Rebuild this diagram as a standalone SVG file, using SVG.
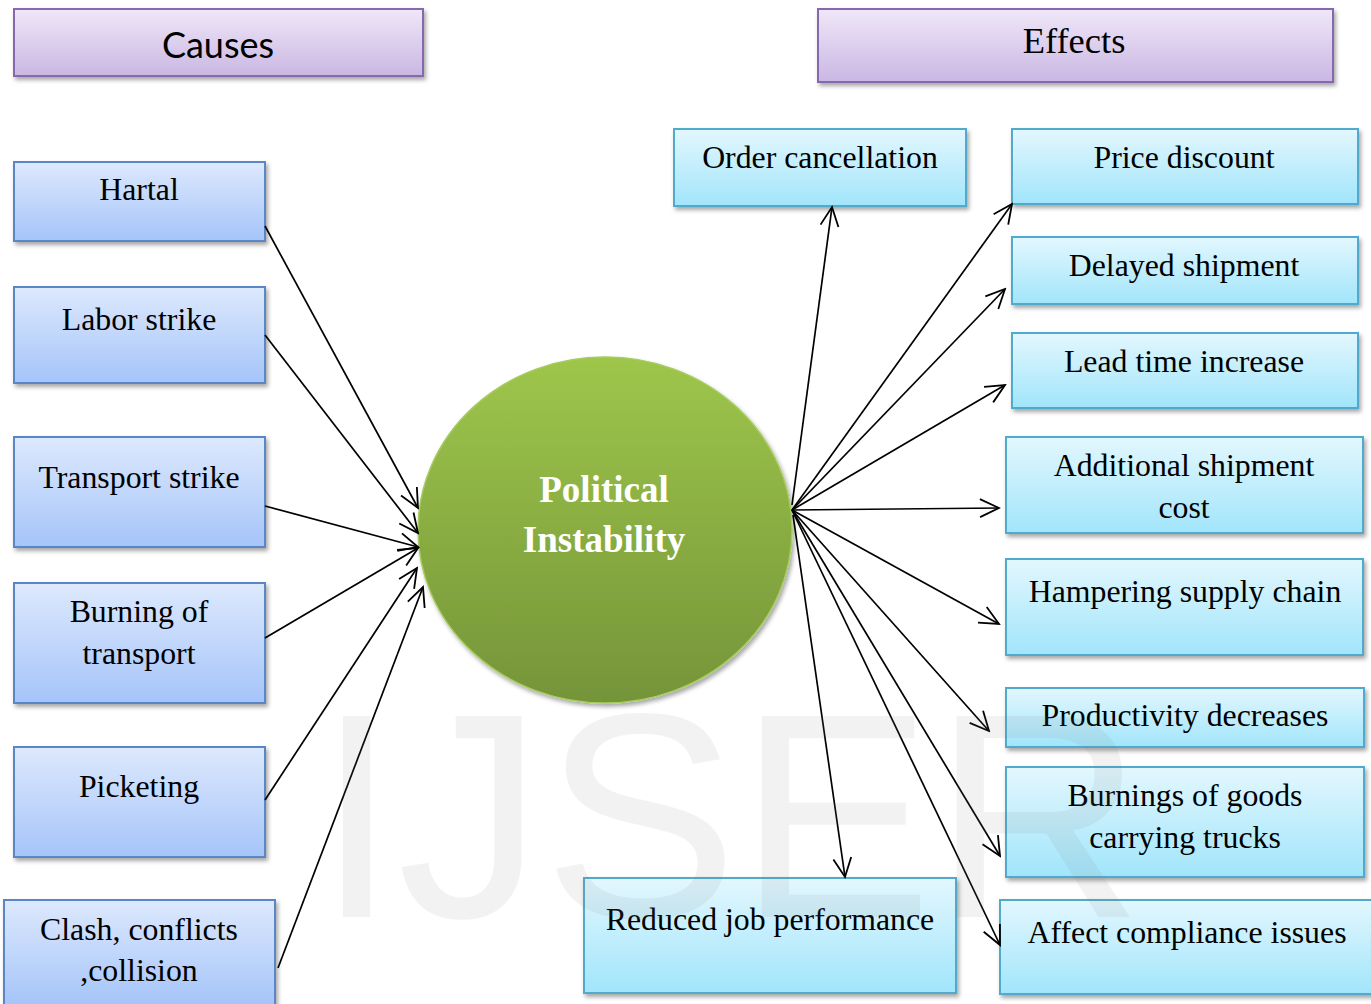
<svg xmlns="http://www.w3.org/2000/svg" width="1371" height="1004" viewBox="0 0 1371 1004">
  <defs>
    <linearGradient id="gHead" x1="0" y1="0" x2="0" y2="1">
      <stop offset="0" stop-color="#efe7f8"/>
      <stop offset="1" stop-color="#cab7e3"/>
    </linearGradient>
    <linearGradient id="gCause" x1="0" y1="0" x2="0" y2="1">
      <stop offset="0" stop-color="#dde9fd"/>
      <stop offset="1" stop-color="#a5c4f9"/>
    </linearGradient>
    <linearGradient id="gEffect" x1="0" y1="0" x2="0" y2="1">
      <stop offset="0" stop-color="#e3f7fe"/>
      <stop offset="1" stop-color="#a1e5fb"/>
    </linearGradient>
    <linearGradient id="gCore" x1="0" y1="0" x2="0" y2="1">
      <stop offset="0" stop-color="#9ec64b"/>
      <stop offset="1" stop-color="#759439"/>
    </linearGradient>
    <filter id="shadow" x="-10%" y="-10%" width="125%" height="140%">
      <feDropShadow dx="2" dy="3" stdDeviation="2" flood-color="#000" flood-opacity="0.35"/>
    </filter>
    <marker id="arrow" markerUnits="userSpaceOnUse" markerWidth="24" markerHeight="24" viewBox="-22 -12 24 24" refX="0" refY="0" orient="auto">
      <path d="M -19 -9 L 0 0 L -19 9" fill="none" stroke="#000" stroke-width="1.8"/>
    </marker>
    <style>
      .head { fill: url(#gHead); stroke: #8667ae; stroke-width: 2; filter: url(#shadow); }
      .cause { fill: url(#gCause); stroke: #5a86c5; stroke-width: 2; filter: url(#shadow); }
      .effect { fill: url(#gEffect); stroke: #4faacb; stroke-width: 2; filter: url(#shadow); }
      .lbl { font-family: "Liberation Serif", "Times New Roman", serif; font-size: 31.8px; fill: #000; text-anchor: middle; }
      .core { font-family: "Liberation Serif", "Times New Roman", serif; font-size: 37px; font-weight: bold; fill: #fff; text-anchor: middle; }
      .link { stroke: #000; stroke-width: 1.7; fill: none; marker-end: url(#arrow); }
    </style>
  </defs>

  <rect width="1371" height="1004" fill="#fff"/>

  <!-- column headers -->
  <g id="causes-header">
    <rect class="head" x="14" y="9" width="409" height="67"/>
    <text x="218" y="58" font-family="Lato, 'Open Sans', sans-serif" font-size="36" text-anchor="middle" fill="#000">Causes</text>
  </g>
  <g id="effects-header">
    <rect class="head" x="818" y="9" width="515" height="73"/>
    <text class="lbl" x="1074" y="53" style="font-size:36.5px">Effects</text>
  </g>

  <!-- causes -->
  <g id="hartal">
    <rect class="cause" x="14" y="162" width="251" height="79"/>
    <text class="lbl" x="139" y="200">Hartal</text>
  </g>
  <g id="labor-strike">
    <rect class="cause" x="14" y="287" width="251" height="96"/>
    <text class="lbl" x="139" y="330">Labor strike</text>
  </g>
  <g id="transport-strike">
    <rect class="cause" x="14" y="437" width="251" height="110"/>
    <text class="lbl" x="139" y="488">Transport strike</text>
  </g>
  <g id="burning-of-transport">
    <rect class="cause" x="14" y="583" width="251" height="120"/>
    <text class="lbl" x="139" y="622">Burning of</text>
    <text class="lbl" x="139" y="664">transport</text>
  </g>
  <g id="picketing">
    <rect class="cause" x="14" y="747" width="251" height="110"/>
    <text class="lbl" x="139" y="797">Picketing</text>
  </g>
  <g id="clash">
    <rect class="cause" x="4" y="900" width="271" height="106"/>
    <text class="lbl" x="139" y="940">Clash, conflicts</text>
    <text class="lbl" x="139" y="981">,collision</text>
  </g>

  <!-- central node -->
  <g id="political-instability">
    <ellipse cx="605" cy="530" rx="187" ry="173" fill="url(#gCore)" stroke="#a6cb5e" stroke-width="1.5" filter="url(#shadow)"/>
    <text class="core" x="604" y="502">Political</text>
    <text class="core" x="604" y="552">Instability</text>
  </g>

  <!-- effects -->
  <g id="order-cancellation">
    <rect class="effect" x="674" y="129" width="292" height="77"/>
    <text class="lbl" x="820" y="168">Order cancellation</text>
  </g>
  <g id="price-discount">
    <rect class="effect" x="1012" y="129" width="346" height="75"/>
    <text class="lbl" x="1184" y="168">Price discount</text>
  </g>
  <g id="delayed-shipment">
    <rect class="effect" x="1012" y="237" width="346" height="67"/>
    <text class="lbl" x="1184" y="276">Delayed shipment</text>
  </g>
  <g id="lead-time-increase">
    <rect class="effect" x="1012" y="333" width="346" height="75"/>
    <text class="lbl" x="1184" y="372">Lead time increase</text>
  </g>
  <g id="additional-shipment-cost">
    <rect class="effect" x="1006" y="437" width="357" height="96"/>
    <text class="lbl" x="1184" y="476">Additional shipment</text>
    <text class="lbl" x="1184" y="518">cost</text>
  </g>
  <g id="hampering-supply-chain">
    <rect class="effect" x="1006" y="559" width="357" height="96"/>
    <text class="lbl" x="1185" y="602">Hampering supply chain</text>
  </g>
  <g id="productivity-decreases">
    <rect class="effect" x="1006" y="688" width="358" height="59"/>
    <text class="lbl" x="1185" y="726">Productivity decreases</text>
  </g>
  <g id="burnings-of-trucks">
    <rect class="effect" x="1006" y="767" width="358" height="110"/>
    <text class="lbl" x="1185" y="806">Burnings of goods</text>
    <text class="lbl" x="1185" y="848">carrying trucks</text>
  </g>
  <g id="reduced-job-performance">
    <rect class="effect" x="584" y="878" width="372" height="115"/>
    <text class="lbl" x="770" y="930">Reduced job performance</text>
  </g>
  <g id="affect-compliance-issues">
    <rect class="effect" x="1000" y="900" width="373" height="94"/>
    <text class="lbl" x="1187" y="943">Affect compliance issues</text>
  </g>

  <!-- connectors -->
  <g id="connectors">
    <line class="link" x1="265" y1="226" x2="418" y2="508"/>
    <line class="link" x1="265" y1="335" x2="418" y2="533"/>
    <line class="link" x1="265" y1="506" x2="418" y2="547"/>
    <line class="link" x1="265" y1="638" x2="418" y2="548"/>
    <line class="link" x1="265" y1="800" x2="417" y2="568"/>
    <line class="link" x1="278" y1="968" x2="423" y2="587"/>

    <line class="link" x1="792" y1="505" x2="832" y2="207"/>
    <line class="link" x1="792" y1="510" x2="1012" y2="204"/>
    <line class="link" x1="792" y1="510" x2="1005" y2="289"/>
    <line class="link" x1="792" y1="510" x2="1005" y2="385"/>
    <line class="link" x1="792" y1="510" x2="999" y2="508"/>
    <line class="link" x1="792" y1="510" x2="999" y2="624"/>
    <line class="link" x1="792" y1="510" x2="989" y2="731"/>
    <line class="link" x1="792" y1="510" x2="1000" y2="856"/>
    <line class="link" x1="792" y1="510" x2="1000" y2="945"/>
    <line class="link" x1="793" y1="515" x2="845" y2="877"/>
  </g>

  <!-- faint watermark lettering -->
  <text x="316" y="917" font-family="'Liberation Sans', Arial, sans-serif" font-size="292" fill="#808080" fill-opacity="0.1">IJSER</text>
</svg>
